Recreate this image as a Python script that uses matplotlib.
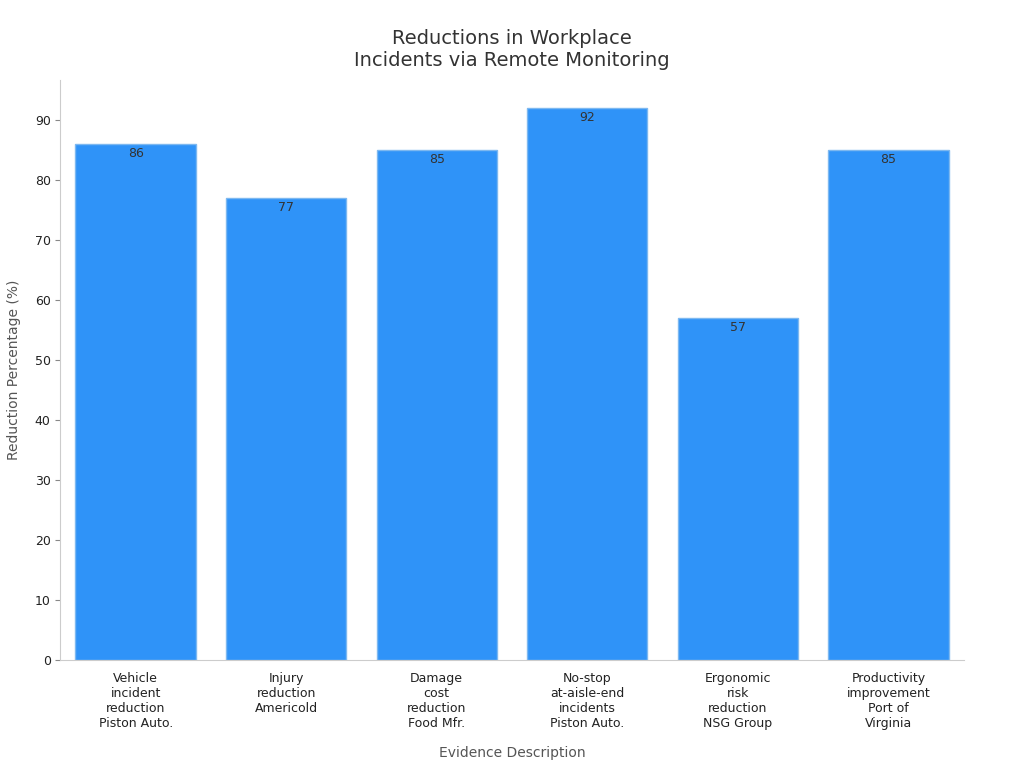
import matplotlib
matplotlib.use("Agg")
import matplotlib.pyplot as plt

# Chart data
categories = ["Vehicle\nincident\nreduction\nPiston Auto.",
              "Injury\nreduction\nAmericold",
              "Damage\ncost\nreduction\nFood Mfr.",
              "No-stop\nat-aisle-end\nincidents\nPiston Auto.",
              "Ergonomic\nrisk\nreduction\nNSG Group",
              "Productivity\nimprovement\nPort of\nVirginia"]
values = [86, 77, 85, 92, 57, 85]

plt.rcParams['font.family'] = ['DejaVu Sans']
fig, ax = plt.subplots(figsize=(10.24, 7.68), dpi=100)
fig.subplots_adjust(left=0.059, right=0.941, top=0.896, bottom=0.14)

x = range(len(values))
bars = ax.bar(x, values, width=0.8, color="#2F93F8", edgecolor="#7DB8F0",
              linewidth=1)
for b, v in zip(bars, values):
    ax.text(b.get_x() + b.get_width() / 2, v - 0.5, f"{v}", ha='center',
            va='top', fontsize=9, color="#333333")

ax.set_xlim(-0.5, 5.5)
ax.set_ylim(0, 96.7)
ax.set_yticks(range(0, 91, 10))
ax.set_xticks(list(x))
ax.set_xticklabels(categories, fontsize=9, color="#222222")
ax.tick_params(axis='y', labelsize=9, colors="#222222")
ax.tick_params(axis='x', length=0, pad=8)
for s in ['top', 'right']:
    ax.spines[s].set_visible(False)
for s in ['left', 'bottom']:
    ax.spines[s].set_color("#CCCCCC")
ax.tick_params(axis='y', color="#888888")

ax.set_xlabel("Evidence Description", fontsize=10, color="#555555",
              labelpad=12)
ax.set_ylabel("Reduction Percentage (%)", fontsize=10, color="#555555",
              labelpad=10)
ax.set_title("Reductions in Workplace\nIncidents via Remote Monitoring",
             fontsize=14, color="#333333", pad=10)

plt.savefig("out.png")
